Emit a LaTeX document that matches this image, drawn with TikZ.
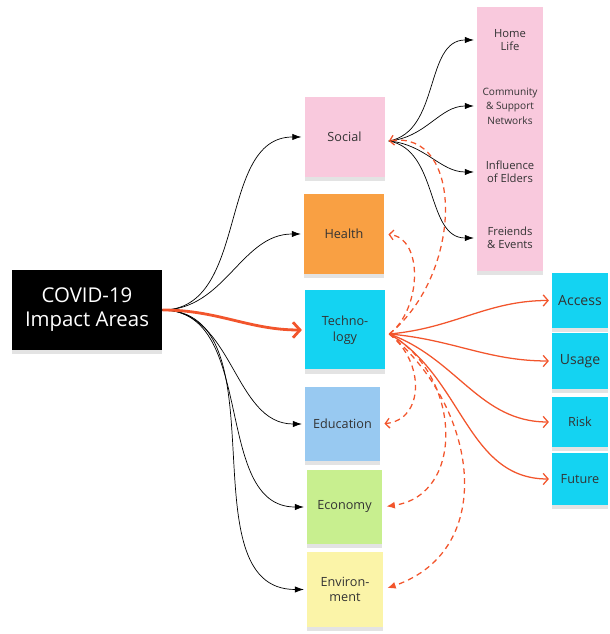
\documentclass[tikz,border=0pt]{standalone}
\usepackage{fontspec}
\setmainfont{Open Sans}
\usetikzlibrary{arrows.meta,shadows}

\definecolor{notepink}{HTML}{F9C9DD}
\definecolor{noteorange}{HTML}{F9A043}
\definecolor{notecyan}{HTML}{14D3F2}
\definecolor{noteblue}{HTML}{98C9F1}
\definecolor{notegreen}{HTML}{C8EF8F}
\definecolor{noteyellow}{HTML}{FBF4A8}
\definecolor{notetext}{HTML}{333333}
\definecolor{linkred}{HTML}{F2552C}

\begin{document}
\begin{tikzpicture}[
                note/.style={rectangle, inner sep=1pt, align=center, text=notetext,
                    font=\fontsize{9}{11}\selectfont, minimum width=2cm, minimum height=2cm,
                    drop shadow={shadow xshift=0pt, shadow yshift=-3pt, opacity=0.22}},
                small/.style={note, minimum width=1.65cm, minimum height=1.65cm, fill=notepink,
                    font=\fontsize{8}{9.4}\selectfont},
                right/.style={note, minimum width=1.4cm, fill=notecyan},
                blackline/.style={black, line width=0.5pt, -{Latex[length=6.5pt,width=4.5pt]}, shorten >=2pt},
                redline/.style={linkred, line width=0.9pt, -{Straight Barb[length=3.5pt,width=8pt]}, shorten >=2pt},
                reddash/.style={linkred, line width=0.9pt, dash pattern=on 4pt off 3pt, shorten >=3pt}
            ]
            % Fixing the frame of the picture
            \useasboundingbox (0,0) rectangle (15.25,15.85);

            % Main topic note on the left
            \node[fill=black, text=white, minimum width=3.75cm, minimum height=2cm, align=center,
                font=\fontsize{14.5}{17}\selectfont,
                drop shadow={shadow xshift=0pt, shadow yshift=-3pt, opacity=0.22}]
                (covid) at (2.175,8.1) {COVID-19\\Impact Areas};

            % Middle column of impact areas
            \node[note, fill=notepink] (social) at (8.6125,12.425) {Social};
            \node[note, fill=noteorange] (health) at (8.6,10.0) {Health};
            \node[note, fill=notecyan, minimum height=1.975cm] (tech) at (8.625,7.6) {Techno-\\logy};
            \node[note, fill=noteblue, minimum width=1.875cm, minimum height=1.85cm] (education) at (8.5625,5.25) {Education};
            \node[note, fill=notegreen, minimum width=1.875cm, minimum height=1.85cm] (economy) at (8.6125,3.175) {Economy};
            \node[note, fill=noteyellow, minimum width=1.9cm, minimum height=1.875cm] (environment) at (8.625,1.1125) {Environ-\\ment};

            % Social sub-topics (pink stack)
            \node[small] (home) at (12.75,14.85) {Home\\Life};
            \node[small, font=\fontsize{7.2}{10.4}\selectfont] (community) at (12.75,13.2) {Community\\\& Support\\Networks};
            \node[small] (elders) at (12.75,11.55) {Influence\\of Elders};
            \node[small] (friends) at (12.75,9.9) {Freiends\\\& Events};

            % Technology sub-topics (cyan column)
            \node[right, minimum height=1.375cm, font=\fontsize{10}{12}\selectfont] (access) at (14.5,8.3375) {Access};
            \node[right, minimum height=1.4cm, font=\fontsize{10}{12}\selectfont] (usage) at (14.5,6.825) {Usage};
            \node[right, minimum height=1.25cm] (risk) at (14.5,5.3) {Risk};
            \node[right, minimum height=1.3cm] (future) at (14.5,3.875) {Future};

            % Hubs where the fans start
            \coordinate (socialhub) at ([shift={(0.1,-0.1)}]social.east);
            \coordinate (techhub) at ([shift={(0.1,-0.1)}]tech.east);

            % Links from the main topic
            \draw[blackline] (covid.east) to[out=0, in=180] (social.west);
            \draw[blackline] (covid.east) to[out=0, in=180] (health.west);
            \draw[blackline] (covid.east) to[out=0, in=180] (education.west);
            \draw[blackline] (covid.east) to[out=0, in=180] (economy.west);
            \draw[blackline] (covid.east) to[out=0, in=180] (environment.west);
            \draw[linkred, line width=2pt, -{Straight Barb[length=5pt,width=11pt]}, shorten >=2pt]
                (covid.east) to[out=0, in=180] (tech.west);

            % Social fan
            \draw[blackline] (socialhub) to[out=10, in=180] (home.west);
            \draw[blackline] (socialhub) to[out=5, in=180] (community.west);
            \draw[blackline] (socialhub) to[out=-5, in=180] (elders.west);
            \draw[blackline] (socialhub) to[out=-10, in=180] (friends.west);

            % Technology fan
            \draw[redline] (techhub) to[out=5, in=180] (access.west);
            \draw[redline] (techhub) to[out=-5, in=180] (usage.west);
            \draw[redline] (techhub) to[out=-20, in=180] (risk.west);
            \draw[redline] (techhub) to[out=-30, in=180] (future.west);

            % Dashed links back from technology
            \draw[reddash, -{Straight Barb[length=3pt,width=7pt]}, shorten >=0pt]
                (techhub) .. controls +(1.85,1.5) and +(1.9,0.3) .. (socialhub);
            \draw[reddash, -{Straight Barb[length=3pt,width=7pt]}]
                (techhub) .. controls +(0.8,0.6) and +(1.0,-0.1) .. (health.east);
            \draw[reddash, -{Straight Barb[length=3pt,width=7pt]}]
                (techhub) .. controls +(0.9,-0.7) and +(1.1,0.1) .. (education.east);
            \draw[reddash, -{Latex[length=6pt,width=5pt]}]
                (techhub) .. controls +(1.8,-1.0) and +(2.1,0.3) .. (economy.east);
            \draw[reddash, -{Latex[length=6pt,width=5pt]}]
                (techhub) .. controls +(2.2,-1.8) and +(2.9,1.0) .. (environment.east);

        \end{tikzpicture}
\end{document}
